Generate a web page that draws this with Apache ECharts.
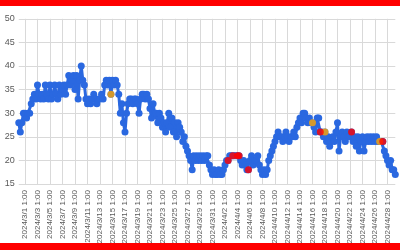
<!DOCTYPE html>
<html><head><meta charset="utf-8">
<script src="https://cdn.jsdelivr.net/npm/echarts@6/dist/echarts.min.js"></script>
<style>html,body{margin:0;padding:0;background:#fff}#c{width:400px;height:250px}</style>
</head><body><div id="c"></div>
<script>
// series values every 6 hours starting 2024/2/29 1:00
const values = [
28,26,28,30, 30,29,30,30, 32,33,34,33, 36,34,33,34, 33,36,34,33,
36,33,34,36, 34,33,36,34, 35,36,34,36, 38,36,37,38, 35,38,33,37,
40,37,36,33, 32,33,32,33, 34,33,32,33, 33,34,33,36, 37,36,37,34,
37,36,37,36, 34,30,32,28, 26,30,32,33, 33,32,33,33, 32,30,33,34,
34,33,34,33, 31,29,32,30, 30,28,30,29, 27,28,26,28, 30,27,29,26,
28,25,28,27, 26,24,25,23, 22,21,20,18, 21,20,21,20, 21,20,21,20,
21,21,19,18, 17,18,17,17, 18,17,17,18, 19,20,20,21, 21,21,21,21,
21,21,20,19, 20,19,18,18, 20,21,19,20, 20,21,19,18, 17,18,17,18,
20,21,22,23, 24,25,26,25, 25,24,25,26, 25,24,25,25, 26,25,27,28,
29,28,30,30, 29,28,29,28, 28,27,26,29, 29,26,26,25, 26,24,25,23,
24,25,24,26, 28,22,25,26, 25,24,26,25, 25,26,24,25, 23,25,22,24,
25,22,24,25, 24,25,24,25, 24,25,24,24, 24,24,22,21, 20,19,20,18,
18,17
];
const redTimes = ['2024/4/2 13:00','2024/4/3 7:00','2024/4/4 1:00','2024/4/4 7:00','2024/4/5 19:00','2024/4/17 7:00','2024/4/22 7:00','2024/4/27 7:00'];
const orangeTimes = ['2024/3/14 19:00','2024/4/16 1:00','2024/4/18 1:00','2024/4/26 19:00'];
const yTicks = [15,20,25,30,35,40,45,50];

const categories = [];
const start = Date.UTC(2024,1,29,1);
for (let i = 0; i < values.length; i++) {
  const d = new Date(start + i*6*3600*1000);
  categories.push(d.getUTCFullYear()+'/'+(d.getUTCMonth()+1)+'/'+d.getUTCDate()+' '+d.getUTCHours()+':00');
}
const BLUE = '#2a68e0';
const highlight = [];
orangeTimes.forEach(t=>highlight.push({value:[t, values[categories.indexOf(t)]], itemStyle:{color:'#ffa500'}}));
redTimes.forEach(t=>highlight.push({value:[t, values[categories.indexOf(t)]], itemStyle:{color:'#ff0000'}}));

const chart = echarts.init(document.getElementById('c'), null, {renderer:'canvas'});
const labelEvery = (idx)=> idx % 8 === 4;
chart.setOption({
  animation:false,
  backgroundColor:'#fff',
  textStyle:{fontFamily:'Liberation Sans'},
  graphic:[
    {type:'rect', left:0, top:0, shape:{width:400,height:6}, style:{fill:'#ff0000'}, z:100},
    {type:'rect', left:0, top:243, shape:{width:400,height:7}, style:{fill:'#ff0000'}, z:100}
  ],
  grid:{left:18.75, right:4.7, top:18.8, bottom:66, containLabel:false},
  xAxis:{
    type:'category', data:categories, boundaryGap:false,
    axisLine:{show:false}, axisTick:{show:false},
    axisLabel:{interval:labelEvery, rotate:90, fontSize:8, color:'#595959', margin:6, fontFamily:'Liberation Sans'},
    splitLine:{show:true, interval:labelEvery, lineStyle:{color:'#d9d9d9', width:1}}
  },
  yAxis:{
    type:'value', min:yTicks[0], max:yTicks[yTicks.length-1], interval:5,
    axisLine:{show:false}, axisTick:{show:false},
    axisLabel:{fontSize:9, color:'#595959', margin:4, fontFamily:'Liberation Sans'},
    splitLine:{lineStyle:{color:'#d9d9d9', width:1}}
  },
  series:[{
    type:'line', data:values, symbol:'circle', symbolSize:7, showAllSymbol:true,
    lineStyle:{color:BLUE, width:3}, itemStyle:{color:BLUE}, z:2
  },{
    type:'scatter', data:highlight, symbol:'circle', symbolSize:7, z:3
  }]
});
</script></body></html>
